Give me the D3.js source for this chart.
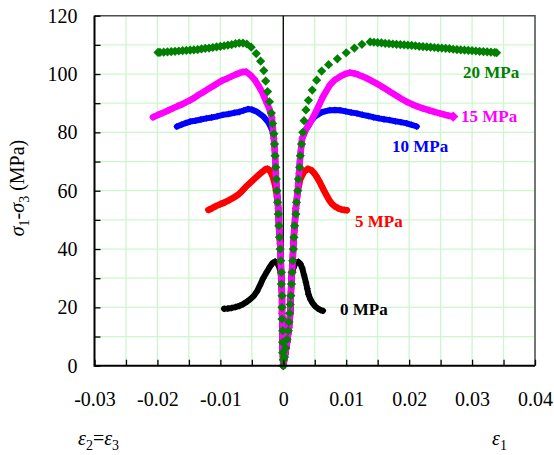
<!DOCTYPE html>
<html>
<head>
<meta charset="utf-8">
<script src="https://cdn.jsdelivr.net/npm/d3@7"></script>
<style>
  html, body { margin: 0; padding: 0; background: #fff; }
  svg { display: block; }
  text { font-family: "Times New Roman", "Liberation Serif", serif; }
</style>
</head>
<body>
<svg id="chart" width="554" height="455"></svg>
<script>
// Triaxial compression curves: deviatoric stress vs. axial strain (ε1, right)
// and lateral strain (ε2=ε3, left), one series per confining pressure.

const xTickValues = [-0.03, -0.02, -0.01, 0, 0.01, 0.02, 0.03, 0.04];
const yTickValues = [0, 20, 40, 60, 80, 100, 120];

const seriesNames = ["0 MPa", "5 MPa", "10 MPa", "15 MPa", "20 MPa"];
const seriesColors = ["#000000", "#ff0000", "#0000ff", "#ff00ff", "#007f00"];

// [strain, stress (MPa)] — lateral branch (negative strain) and axial branch
const lateral0 = [[0,0],[-0.0001,6],[-0.0001,12],[-0.0002,18],[-0.0002,24],[-0.0003,29],[-0.0005,33],[-0.0009,35],
  [-0.0013,35.7],[-0.0017,35.2],[-0.0021,34],[-0.0026,32.2],[-0.0032,30],[-0.0037,27.6],[-0.0042,25.4],[-0.0047,23.9],
  [-0.0052,22.9],[-0.0058,21.9],[-0.0064,21.1],[-0.0070,20.5],[-0.0076,20.1],[-0.0082,19.8],[-0.0088,19.6],[-0.0094,19.5]];
const axial0 = [[0,0],[0.0003,4],[0.0006,8],[0.0009,13],[0.0011,18],[0.0012,24],[0.0013,30],[0.0016,33.5],[0.0020,35.3],
  [0.0024,35.6],[0.0027,35],[0.0030,33.5],[0.0033,31],[0.0036,28.5],[0.0038,26.5],[0.0040,24.5],[0.0043,22.8],
  [0.0047,21.3],[0.0051,20.3],[0.0055,19.6],[0.0059,19.1],[0.0063,18.8]];

const lateral5 = [[0,0],[-0.0001,6],[-0.0001,12],[-0.0002,18],[-0.0002,24],[-0.0003,30],[-0.0004,36],[-0.0005,42],
  [-0.0007,48],[-0.0008,54],[-0.0010,58],[-0.0013,62],[-0.0017,65],[-0.0021,66.8],[-0.0025,67.5],[-0.0028,67.4],
  [-0.0032,66.7],[-0.0036,66],[-0.0042,64.8],[-0.0048,63.6],[-0.0054,62.4],[-0.0060,61.2],[-0.0066,59.8],
  [-0.0072,58.6],[-0.0079,57.6],[-0.0086,56.8],[-0.0093,56],[-0.0100,55.4],[-0.0107,54.7],[-0.0113,54],[-0.0119,53.4]];
const axial5 = [[0,0],[0.0003,4],[0.0006,8],[0.0009,13],[0.0011,18],[0.0012,24],[0.0013,30],[0.0015,36],[0.0016,42],
  [0.0018,48],[0.0020,54],[0.0023,60],[0.0027,64],[0.0033,66.5],[0.0039,67.5],[0.0045,67],[0.0049,66],[0.0053,64.8],
  [0.0057,63.3],[0.0061,61.6],[0.0065,59.9],[0.0069,58.3],[0.0073,56.8],[0.0077,55.6],[0.0082,54.6],[0.0087,54],
  [0.0092,53.6],[0.0097,53.4],[0.0101,53.3]];

const lateral10 = [[0,0],[-0.0001,6],[-0.0001,12],[-0.0002,18],[-0.0002,24],[-0.0003,30],[-0.0004,36],[-0.0005,42],
  [-0.0007,48],[-0.0008,54],[-0.0010,60],[-0.0012,66],[-0.0013,72],[-0.0015,78],[-0.0018,81],[-0.0024,83.5],
  [-0.0032,85.5],[-0.0042,87.1],[-0.0050,87.8],[-0.0056,88],[-0.0063,87.5],[-0.0070,87],[-0.0078,86.7],[-0.0087,86.3],
  [-0.0096,86],[-0.0105,85.5],[-0.0114,85.1],[-0.0122,84.8],[-0.0131,84.4],[-0.0140,84],[-0.0148,83.7],
  [-0.0155,83.2],[-0.0162,82.6],[-0.0169,82]];
const axial10 = [[0,0],[0.0003,4],[0.0006,8],[0.0009,13],[0.0011,18],[0.0012,24],[0.0013,30],[0.0015,36],[0.0016,42],
  [0.0018,48],[0.0020,54],[0.0023,60],[0.0025,66],[0.0027,72],[0.0030,78],[0.0036,81],[0.0043,83.5],[0.0050,85.4],
  [0.0061,86.9],[0.0074,87.6],[0.0082,87.7],[0.0090,87.6],[0.0099,87.2],[0.0108,86.8],[0.0117,86.5],[0.0126,86],
  [0.0135,85.6],[0.0143,85.2],[0.0152,84.8],[0.0160,84.5],[0.0169,84.2],[0.0178,83.8],[0.0187,83.5],[0.0196,83.1],
  [0.0204,82.6],[0.0212,82]];

const lateral15 = [[0,0],[-0.0001,6],[-0.0001,12],[-0.0002,18],[-0.0002,24],[-0.0003,30],[-0.0004,36],[-0.0005,42],
  [-0.0007,48],[-0.0008,54],[-0.0010,60],[-0.0012,66],[-0.0013,72],[-0.0015,78],[-0.0018,85],[-0.0022,88],
  [-0.0026,90],[-0.0030,92],[-0.0034,94],[-0.0040,96.2],[-0.0045,97.9],[-0.0052,99.6],[-0.0059,100.8],
  [-0.0064,100.7],[-0.0069,100.4],[-0.0076,99.8],[-0.0083,99.1],[-0.0089,98.5],[-0.0096,97.9],[-0.0103,97],
  [-0.0109,96.2],[-0.0116,95.3],[-0.0122,94.5],[-0.0128,93.7],[-0.0135,92.8],[-0.0141,91.9],[-0.0148,91],
  [-0.0155,90.3],[-0.0161,89.6],[-0.0168,89],[-0.0175,88.3],[-0.0183,87.5],[-0.0191,86.7],[-0.0199,86],[-0.0207,85.2]];
const axial15 = [[0,0],[0.0003,4],[0.0006,8],[0.0009,13],[0.0011,18],[0.0012,24],[0.0013,30],[0.0015,36],[0.0016,42],
  [0.0018,48],[0.0020,54],[0.0023,60],[0.0025,66],[0.0027,72],[0.0030,78],[0.0036,81],[0.0042,83],[0.0053,87.6],
  [0.0063,92.2],[0.0074,96.2],[0.0082,98],[0.0090,99.1],[0.0098,100],[0.0106,100.5],[0.0113,100.2],[0.0120,99.7],
  [0.0127,99.1],[0.0134,98.4],[0.0141,97.6],[0.0148,96.8],[0.0155,95.9],[0.0162,95],[0.0169,94],[0.0178,92.8],
  [0.0187,91.6],[0.0196,90.5],[0.0205,89.6],[0.0213,88.9],[0.0222,88.2],[0.0231,87.6],[0.0240,87],[0.0249,86.5],
  [0.0256,86.1],[0.0263,85.7],[0.0270,85.4]];

const lateral20 = [[0,0],[0,2],[-0.0001,4.5],[-0.0001,8],[-0.0001,12],[-0.0002,16],[-0.0002,20],[-0.0002,24],
  [-0.0003,28],[-0.0003,32],[-0.0004,36],[-0.0005,40],[-0.0006,44],[-0.0007,48],[-0.0008,52],[-0.0009,56],
  [-0.0010,60],[-0.0011,64],[-0.0012,68],[-0.0013,72],[-0.0014,76],[-0.0015,79.5],[-0.0017,83],[-0.0019,86.6],
  [-0.0022,90.5],[-0.0025,94],[-0.0028,97.6],[-0.0031,101.2],[-0.0036,104.4],[-0.0043,107],[-0.0051,109.2],
  [-0.0058,110.3],[-0.0064,110.6],[-0.0070,110.6],[-0.0076,110.4],[-0.0082,110.1],[-0.0088,109.9],[-0.0094,109.7],
  [-0.0100,109.5],[-0.0106,109.3],[-0.0112,109.1],[-0.0118,108.9],[-0.0124,108.8],[-0.0130,108.6],[-0.0136,108.4],
  [-0.0142,108.3],[-0.0148,108.2],[-0.0154,108.1],[-0.0160,108],[-0.0166,107.9],[-0.0172,107.8],[-0.0178,107.7],
  [-0.0184,107.6],[-0.0190,107.5],[-0.0196,107.4],[-0.0199,107.4]];
const axial20 = [[0,0],[0.0002,3],[0.0004,6],[0.0006,9],[0.0008,12],[0.0009,15],[0.0010,18],[0.0011,21],[0.0012,24],
  [0.0013,28],[0.0014,32],[0.0015,36],[0.0016,40],[0.0017,44],[0.0018,48],[0.0020,52],[0.0021,56],[0.0023,60],
  [0.0024,64],[0.0026,68],[0.0027,72],[0.0029,76],[0.0031,80],[0.0033,84],[0.0036,87.7],[0.0040,91],[0.0046,94.5],
  [0.0053,97.9],[0.0061,101],[0.0072,103.2],[0.0086,105.2],[0.0100,107.3],[0.0113,108.9],[0.0125,110.2],[0.0138,111],
  [0.0144,110.9],[0.0150,110.8],[0.0156,110.7],[0.0162,110.5],[0.0168,110.4],[0.0174,110.3],[0.0180,110.2],
  [0.0186,110.1],[0.0192,110],[0.0198,109.9],[0.0204,109.8],[0.0210,109.7],[0.0216,109.5],[0.0222,109.4],
  [0.0228,109.3],[0.0234,109.2],[0.0240,109.1],[0.0246,109],[0.0252,108.9],[0.0258,108.8],[0.0264,108.7],
  [0.0270,108.5],[0.0276,108.4],[0.0282,108.3],[0.0288,108.2],[0.0294,108.1],[0.0300,108],[0.0306,107.9],
  [0.0312,107.8],[0.0318,107.7],[0.0324,107.6],[0.0330,107.5],[0.0336,107.4],[0.0339,107.3]];

// ---------------------------------------------------------------------------
const svg = d3.select("#chart");
const x = d3.scaleLinear().domain([-0.03, 0.04]).range([94.5, 535]);
const y = d3.scaleLinear().domain([0, 120]).range([365.7, 15.7]);
const [x0, x1] = x.range();
const [yb, yt] = y.range();

const minorX = d3.range(-0.03, 0.0401, 0.005).map(v => +v.toFixed(3));
const minorY = d3.range(0, 121, 10);

// grid
const grid = svg.append("g").attr("stroke", "#ccf7cc").attr("stroke-width", 1.3);
grid.selectAll(".gx").data(minorX).join("line")
  .attr("x1", d => x(d)).attr("x2", d => x(d)).attr("y1", yt).attr("y2", yb);
grid.selectAll(".gy").data(minorY).join("line")
  .attr("x1", x0).attr("x2", x1).attr("y1", d => y(d)).attr("y2", d => y(d));

// outer frame (top / right)
svg.append("path")
  .attr("d", `M${x0},${yt}H${x1}V${yb}`)
  .attr("fill", "none").attr("stroke", "#4d4d4d").attr("stroke-width", 1.5);

// zero strain line
svg.append("line")
  .attr("x1", x(0)).attr("x2", x(0)).attr("y1", yt).attr("y2", yb)
  .attr("stroke", "#000").attr("stroke-width", 1.3);

// square diamond marker of half-diagonal r
const diamondPath = r => `M0,${-r}L${r},0L0,${r}L${-r},0Z`;

const series = [
  { name: seriesNames[0], color: seriesColors[0], branches: [lateral0, axial0], r: 3.5, band: 6 },
  { name: seriesNames[1], color: seriesColors[1], branches: [lateral5, axial5], r: 3.6, band: 6.5 },
  { name: seriesNames[2], color: seriesColors[2], branches: [lateral10, axial10], r: 3.5, band: 6 },
  { name: seriesNames[3], color: seriesColors[3], branches: [lateral15, axial15], r: 3.7, band: 6.5 },
  { name: seriesNames[4], color: seriesColors[4], branches: [lateral20, axial20], r: 4.6, band: 0 }
];
const line = d3.line().x(d => x(d[0])).y(d => y(d[1]));

const plot = svg.append("g");
series.forEach(s => {
  const g = plot.append("g");
  s.branches.forEach(b => {
    if (s.band > 0) {
      g.append("path").attr("d", line(b))
        .attr("fill", "none").attr("stroke", s.color)
        .attr("stroke-width", s.band).attr("stroke-linejoin", "round").attr("stroke-linecap", "round");
    }
    g.selectAll(null).data(b).join("path")
      .attr("transform", d => `translate(${x(d[0])},${y(d[1])})`)
      .attr("d", diamondPath(s.r))
      .attr("fill", s.color);
  });
});
// end marker of the 15 MPa axial branch
const last15 = axial15[axial15.length - 1];
plot.append("path")
  .attr("transform", `translate(${x(last15[0])},${y(last15[1])})`)
  .attr("d", diamondPath(5.2))
  .attr("fill", seriesColors[3]);

// axes: inward ticks
svg.append("g").attr("transform", `translate(0,${yb})`)
  .call(d3.axisBottom(x).tickValues(minorX).tickSize(-6).tickFormat(""))
  .call(g => g.select(".domain").remove())
  .selectAll("line").attr("stroke", "#000").attr("stroke-width", 1.3);
svg.append("g").attr("transform", `translate(${x0},0)`)
  .call(d3.axisLeft(y).tickValues(minorY).tickSize(-6).tickFormat(""))
  .call(g => g.select(".domain").remove())
  .selectAll("line").attr("stroke", "#000").attr("stroke-width", 1.3);

// axis lines
svg.append("path")
  .attr("d", `M${x0},${yt}V${yb}H${x1}`)
  .attr("fill", "none").attr("stroke", "#000").attr("stroke-width", 2);

// tick labels
const fmt = d => d === 0 ? "0" : String(+d.toFixed(2));
const xAx = svg.append("g").attr("transform", `translate(0,${yb})`)
  .call(d3.axisBottom(x).tickValues(xTickValues).tickSize(0).tickPadding(26).tickFormat(fmt));
xAx.select(".domain").remove();
xAx.selectAll("text").attr("font-size", 20).attr("font-family", "'Times New Roman','Liberation Serif',serif").attr("fill", "#000");

const yAx = svg.append("g").attr("transform", `translate(${x0},0)`)
  .call(d3.axisLeft(y).tickValues(yTickValues).tickSize(0).tickPadding(17).tickFormat(d3.format("d")));
yAx.select(".domain").remove();
yAx.selectAll("text").attr("font-size", 20).attr("font-family", "'Times New Roman','Liberation Serif',serif").attr("fill", "#000");

// axis titles
function subText(sel, parts) {
  parts.forEach(p => {
    const t = sel.append("tspan").text(p.t);
    if (p.i) t.attr("font-style", "italic");
    if (p.sub) t.attr("font-size", 14).attr("dy", 5);
    if (p.up) t.attr("dy", -5);
  });
}
const yTitle = svg.append("text")
  .attr("transform", "translate(24,188) rotate(-90)")
  .attr("text-anchor", "middle").attr("font-size", 20).attr("fill", "#000");
subText(yTitle, [{ t: "σ", i: true }, { t: "1", sub: true }, { t: "-", up: true }, { t: "σ", i: true },
  { t: "3", sub: true }, { t: " (MPa)", up: true }]);

const xTitleL = svg.append("text").attr("x", 78).attr("y", 445).attr("font-size", 20).attr("fill", "#000");
subText(xTitleL, [{ t: "ε", i: true }, { t: "2", sub: true }, { t: "=", up: true }, { t: "ε", i: true }, { t: "3", sub: true }]);
const xTitleR = svg.append("text").attr("x", 492).attr("y", 445).attr("font-size", 20).attr("fill", "#000");
subText(xTitleR, [{ t: "ε", i: true }, { t: "1", sub: true }]);

// series labels
const labelPos = [[340, 315], [355, 227], [392, 152], [461, 122], [463, 78]];
series.forEach((s, i) => {
  svg.append("text")
    .attr("x", labelPos[i][0]).attr("y", labelPos[i][1])
    .attr("font-size", 17).attr("font-weight", "bold").attr("fill", s.color)
    .text(s.name);
});
</script>
</body>
</html>
